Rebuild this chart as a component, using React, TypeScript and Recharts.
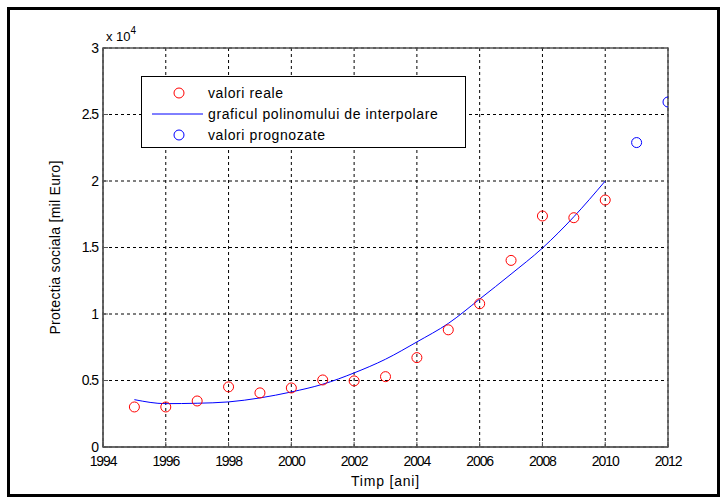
import React from 'react'
import { ComposedChart, Scatter, Line, XAxis, YAxis, CartesianGrid, ReferenceArea } from 'recharts'

const years = [1995, 1996, 1997, 1998, 1999, 2000, 2001, 2002, 2003, 2004, 2005, 2006, 2007, 2008, 2009, 2010]
const realValues = [3010, 3010, 3460, 4520, 4070, 4440, 5040, 4970, 5290, 6720, 8810, 10770, 14030, 17370, 17240, 18570]
const polyValues = [3560, 3260, 3290, 3390, 3690, 4140, 4720, 5570, 6600, 7900, 9290, 11120, 13000, 14960, 17310, 20000]
const forecastYears = [2011, 2012]
const forecastValues = [22890, 25940]

const xTicks = [1994, 1996, 1998, 2000, 2002, 2004, 2006, 2008, 2010, 2012]
const yTicks = [0, 5000, 10000, 15000, 20000, 25000, 30000]

const SERIES_NAMES = ['valori reale', 'graficul polinomului de interpolare', 'valori prognozate']

const realData = years.map((x, i) => ({ x, y: realValues[i] }))
const polyData = years.map((x, i) => ({ x, y: polyValues[i] }))
const forecastData = forecastYears.map((x, i) => ({ x, y: forecastValues[i] }))

const FONT = '"Liberation Sans", Arial, sans-serif'

const ring = (color: string) => (props: any) => (
  <circle cx={props.cx} cy={props.cy} r={5} fill="none" stroke={color} strokeWidth={1} />
)

const tickStyle = { fill: '#000', fontSize: 14, fontFamily: FONT, letterSpacing: -1.1 }

const LegendBox = () => (
  <div
    style={{
      position: 'absolute',
      left: 141,
      top: 76,
      width: 325,
      height: 72,
      border: '1px solid #000',
      background: '#fff',
      fontFamily: FONT,
      fontSize: 14,
      letterSpacing: 0.6,
      color: '#000',
      boxSizing: 'border-box',
    }}
  >
    <svg width={70} height={70} style={{ position: 'absolute', left: 0, top: 0 }}>
      <circle cx={37} cy={16} r={5} fill="none" stroke="#ff0000" />
      <line x1={10} x2={61} y1={37} y2={37} stroke="#0000ff" />
      <circle cx={37} cy={58} r={5} fill="none" stroke="#0000ff" />
    </svg>
    <div style={{ position: 'absolute', left: 66, top: 6, lineHeight: '21px' }}>
      {SERIES_NAMES.map((n) => (
        <div key={n}>{n}</div>
      ))}
    </div>
  </div>
)

export default function App() {
  return (
    <div style={{ position: 'absolute', left: 0, top: 0, width: 724, height: 501, background: '#fff', fontFamily: FONT }}>
      <div
        style={{
          position: 'absolute',
          left: 7,
          top: 7,
          width: 713,
          height: 490,
          border: '3px solid #000',
          boxSizing: 'border-box',
        }}
      />
      <ComposedChart
        width={724}
        height={501}
        margin={{ top: 48, right: 56, bottom: 24, left: 63 }}
        style={{ position: 'absolute', left: 0, top: 0 }}
      >
        <CartesianGrid stroke="#000" strokeDasharray="3 3" horizontalValues={yTicks} verticalValues={xTicks} />
        <XAxis
          dataKey="x"
          type="number"
          domain={[1994, 2012]}
          ticks={xTicks}
          allowDataOverflow
          height={30}
          stroke="#555"
          tickSize={-5}
          tickMargin={14}
          tick={tickStyle}
          label={{ value: 'Timp [ani]', position: 'insideBottom', offset: -9, fill: '#000', fontSize: 14, fontFamily: FONT, letterSpacing: 0.8 }}
        />
        <YAxis
          dataKey="y"
          type="number"
          domain={[0, 30000]}
          ticks={yTicks}
          allowDataOverflow
          width={40}
          stroke="#555"
          tickSize={-5}
          tickMargin={10}
          tickFormatter={(v: number) => String(v / 10000)}
          tick={tickStyle}
          label={{ value: 'Protectia sociala [mil Euro]', angle: -90, position: 'insideLeft', offset: -8, fill: '#000', fontSize: 14, fontFamily: FONT, letterSpacing: 0.3, style: { textAnchor: 'middle' } }}
        />
        <ReferenceArea x1={1994} x2={2012} y1={0} y2={30000} fill="none" stroke="#555" strokeWidth={1.5} />
        <Line data={polyData} dataKey="y" type="monotone" stroke="#0000ff" strokeWidth={1} dot={false} isAnimationActive={false} />
        <Scatter data={realData} dataKey="y" shape={ring('#ff0000')} isAnimationActive={false} />
        <Scatter data={forecastData} dataKey="y" shape={ring('#0000ff')} isAnimationActive={false} />
      </ComposedChart>
      <LegendBox />
      <div style={{ position: 'absolute', left: 106, top: 27, fontSize: 13, color: '#000' }}>
        x 10<sup style={{ fontSize: 10, position: 'relative', top: -2 }}>4</sup>
      </div>
    </div>
  )
}
